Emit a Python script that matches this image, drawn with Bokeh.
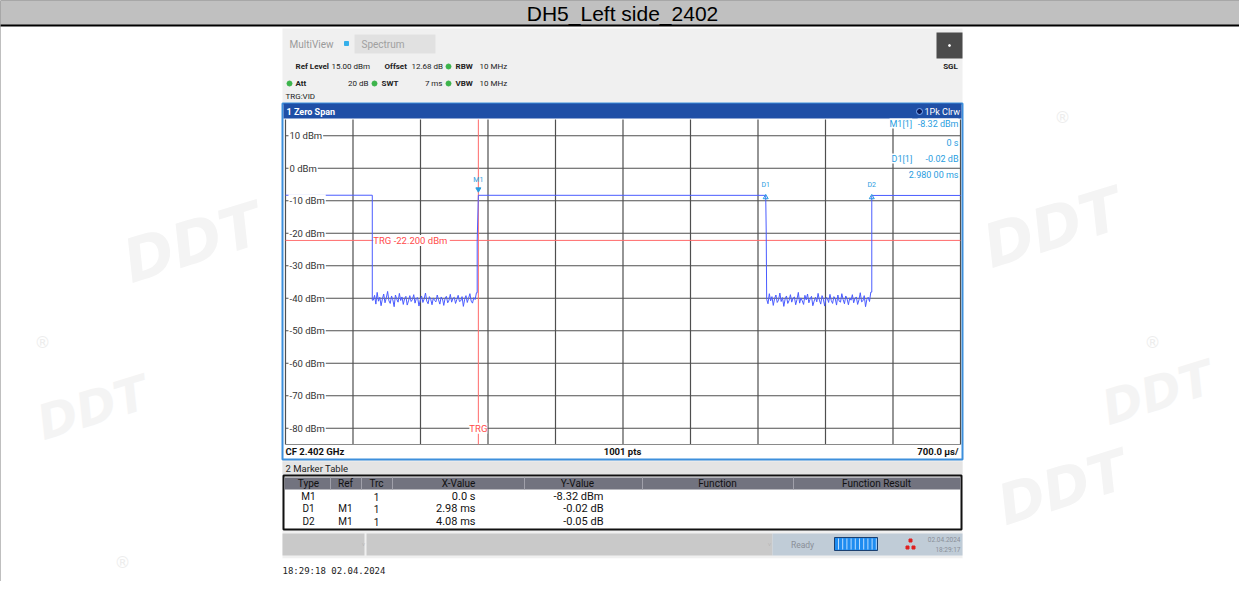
import numpy as np
from bokeh.plotting import figure
from bokeh.models import Range1d
from bokeh.core.properties import value
from bokeh.embed import file_html
from bokeh.resources import INLINE

# ---------------- data ----------------
title_text = "DH5_Left side_2402"
y_tick_levels = [10, 0, -10, -20, -30, -40, -50, -60, -70, -80]
y_tick_labels = ["10 dBm", "0 dBm", "-10 dBm", "-20 dBm", "-30 dBm", "-40 dBm",
                 "-50 dBm", "-60 dBm", "-70 dBm", "-80 dBm"]
x_start_ms = -2.0
x_div_ms = 0.7
x_divs = 10
ref_level = 15.0
y_bottom = -85.0
trigger_level = -22.2

edge_times = [-1.10, 0.0, 2.98, 4.08]        # fall, rise, fall (D1), rise (D2)
high_levels = [-8.30, -8.32, -8.34, -8.37]
noise1 = [-40.6, -39.1, -41.8, -38.2, -40.9, -39.7, -42.3, -40.2, -38.7, -41.4,
          -39.9, -37.9, -40.8, -41.6, -39.3, -40.5, -42.6, -39.0, -40.3, -41.2,
          -38.5, -40.7, -39.6, -41.9, -40.1, -39.4, -42.1, -40.8, -39.2, -41.0,
          -40.4, -38.9, -41.5, -40.0, -39.8, -42.4, -40.6, -39.3, -41.3, -40.2,
          -38.4, -40.9, -41.7, -39.5, -40.3, -42.0, -39.9, -40.7, -41.1, -39.0,
          -40.5, -41.8, -39.6, -40.2, -42.2, -40.0, -39.4, -41.4, -40.6, -38.8,
          -41.2, -40.1, -39.7, -41.6, -40.4, -39.1, -41.0, -40.8, -39.5, -42.5,
          -40.3, -39.2, -41.3, -40.0, -38.6, -40.9, -41.5, -39.8, -40.4, -38.3]
noise2 = [-40.3, -41.7, -38.6, -40.8, -39.5, -42.2, -40.1, -39.0, -41.3, -40.6,
          -38.4, -41.0, -39.8, -42.5, -40.2, -39.3, -41.6, -40.7, -38.9, -41.2,
          -40.0, -39.6, -42.0, -40.4, -38.2, -41.5, -39.9, -40.8, -41.9, -39.1,
          -40.5, -38.7, -41.4, -40.2, -39.4, -42.3, -40.9, -39.7, -41.1, -38.5,
          -40.6, -41.8, -39.2, -40.3, -42.4, -39.8, -40.0, -41.3, -38.8, -40.7,
          -41.6, -39.5, -40.1, -42.1, -39.0, -40.9, -41.2, -38.6, -40.4, -41.7,
          -39.3, -40.2, -42.0, -39.9, -40.6, -38.9, -41.4, -40.0, -39.6, -41.9,
          -40.5, -38.3, -41.1, -40.8, -39.2, -42.6, -40.3, -39.7, -41.0, -38.1]
m1_time, m1_level = 0.0, -8.32
d_times = [2.98, 4.08]
d_names = ["D1", "D2"]

table_cols = ["Type", "Ref", "Trc", "X-Value", "Y-Value", "Function", "Function Result"]
table_type = ["M1", "D1", "D2"]
table_ref = ["", "M1", "M1"]
table_trc = ["1", "1", "1"]
table_x = ["0.0 s", "2.98 ms", "4.08 ms"]
table_y = ["-8.32 dBm", "-0.02 dB", "-0.05 dB"]

# ---------------- canvas mapping (page pixels -> data) ----------------
W, H = 1239, 581
GX0, GX1 = 293.0, 968.0      # grid area on page
GY0, GY1 = 127.0, 452.0
MS_PX = (x_div_ms * x_divs) / (GX1 - GX0)
DB_PX = (ref_level - y_bottom) / (GY1 - GY0)


def X(px):
    return x_start_ms + (px - GX0) * MS_PX


def Y(py):
    return ref_level - (py - GY0) * DB_PX


p = figure(width=W, height=H, output_backend="svg", toolbar_location=None,
           x_range=Range1d(X(8), X(8 + W)), y_range=Range1d(Y(8 + H), Y(8)),
           min_border=0)
p.axis.visible = False
p.grid.visible = False
p.outline_line_color = None
p.background_fill_color = "white"
p.border_fill_color = "white"

UI = "Roboto"


def box(x0, x1, y0, y1, fill=None, line=None, lw=1.0, alpha=1.0):
    p.quad(left=[X(x0)], right=[X(x1)], top=[Y(y0)], bottom=[Y(y1)],
           fill_color=fill if fill else "white", fill_alpha=alpha if fill else 0.0,
           line_color=line, line_width=lw)


def T(x, y, s, size=9, color="#222222", align="left", bold=False, font=UI, bg=None,
      angle=0.0, italic=False):
    kw = {}
    if bg:
        kw = dict(background_fill_color=bg)
    style = "normal"
    if bold and italic:
        style = "bold italic"
    elif bold:
        style = "bold"
    elif italic:
        style = "italic"
    p.text(x=[X(x)], y=[Y(y)], text=[s], text_font=value(font), text_font_size=f"{size}px",
           text_color=color, text_align=align, text_baseline="middle",
           text_font_style=style, angle=angle, **kw)


# ---------------- faint watermarks ----------------
for wx, wy, ws in [(200, 250, 60), (100, 415, 48), (1060, 235, 60), (1165, 400, 48),
                   (1070, 495, 56)]:
    T(wx, wy, "DDT", size=ws, color="#f4f4f4", align="center", bold=True, italic=True,
      font="DejaVu Sans", angle=0.3)
for wx, wy in [(50, 350), (1070, 125), (1160, 350), (130, 570)]:
    T(wx, wy, "\u00ae", size=16, color="#ededed", align="center", font="DejaVu Sans")

# ---------------- outer frame ----------------
box(7, 1253, 7, 33, fill="#c0c0c0", line="black", lw=2)
T(630, 21, title_text, size=21, color="black", align="center", font="Liberation Sans")
p.segment(x0=[X(7), X(1253)], y0=[Y(33)] * 2, x1=[X(7), X(1253)], y1=[Y(600)] * 2,
          line_color="black", line_width=2)

# ---------------- screenshot background ----------------
box(290, 970, 36, 566, fill="#f0f0f0")
box(290, 970, 566, 600, fill="white")
box(362, 443, 42, 61, fill="#e1e1e1")
T(297, 52, "MultiView", size=10, color="#9a9a9a")
p.scatter(x=[X(354)], y=[Y(51)], marker="square", size=4, color="#36b0ea")
T(369, 52, "Spectrum", size=10, color="#a0a0a0")
box(944, 970, 40, 66, fill="#4b4b4b")
p.scatter(x=[X(957)], y=[Y(53)], marker="circle", size=2, color="white")
T(958, 74, "SGL", size=8, color="#222222", bold=True, align="center")

# info lines
T(303, 74, "Ref Level", size=8, bold=True)
T(339, 74, "15.00 dBm", size=8)
T(392, 74, "Offset", size=8, bold=True)
T(419, 74, "12.68 dB", size=8)
T(463, 74, "RBW", size=8, bold=True)
T(487, 74, "10 MHz", size=8)
T(303, 91, "Att", size=8, bold=True)
T(376, 91, "20 dB", size=8, align="right")
T(389, 91, "SWT", size=8, bold=True)
T(450, 91, "7 ms", size=8, align="right")
T(463, 91, "VBW", size=8, bold=True)
T(487, 91, "10 MHz", size=8)
T(293, 104, "TRG:VID", size=8)
p.scatter(x=[X(456), X(297), X(382), X(456)], y=[Y(74), Y(91), Y(91), Y(91)],
          marker="circle", size=5, color="#3cb44b")

# ---------------- zero span window ----------------
box(290, 970, 111, 467, fill="white", line="#3d8fdc", lw=2)
box(291, 969, 111, 126, fill="#1f4fa6")
T(294, 119, "1 Zero Span", size=9, color="white", bold=True)
p.scatter(x=[X(927)], y=[Y(119)], marker="circle", size=6, color="#0a1a5a",
          line_color="#7fb0ff")
T(932, 119, "1Pk Clrw", size=9, color="white")

# grid
vt = [x_start_ms + x_div_ms * k for k in range(x_divs + 1)]
p.segment(x0=vt, y0=[ref_level] * len(vt), x1=vt, y1=[y_bottom] * len(vt),
          line_color="#4f4f4f", line_width=1.2)
x_end = x_start_ms + x_div_ms * x_divs
p.segment(x0=[x_start_ms] * len(y_tick_levels), y0=y_tick_levels,
          x1=[x_end] * len(y_tick_levels), y1=y_tick_levels,
          line_color="#4f4f4f", line_width=1.2)
p.segment(x0=[x_start_ms], y0=[y_bottom], x1=[x_end], y1=[y_bottom],
          line_color="#8a8a8a", line_width=1)

# trigger lines
p.segment(x0=[x_start_ms], y0=[trigger_level], x1=[x_end], y1=[trigger_level],
          line_color="#ff6a6a", line_width=1)
p.segment(x0=[0.0], y0=[ref_level], x1=[0.0], y1=[y_bottom],
          line_color="#ff6a6a", line_width=1)

# trace
t1 = np.linspace(edge_times[0] + 0.01, edge_times[1] - 0.02, len(noise1))
t2 = np.linspace(edge_times[2] + 0.01, edge_times[3] - 0.01, len(noise2))
tr_t = ([x_start_ms, edge_times[0], edge_times[0]] + list(t1) +
        [edge_times[1] - 0.012, edge_times[1] - 0.012, edge_times[1], edge_times[2],
         edge_times[2] + 0.005] + list(t2) + [edge_times[3], edge_times[3], x_end])
tr_v = ([high_levels[0], high_levels[0], noise1[0]] + noise1 +
        [noise1[-1], -22.4, high_levels[1], high_levels[2], -19.0] + noise2 +
        [noise2[-1], high_levels[3], high_levels[3]])
p.line(tr_t, tr_v, line_color="#4a5cff", line_width=1)

# y labels
p.text(x=[x_start_ms] * len(y_tick_levels), y=y_tick_levels, text=y_tick_labels,
       text_font=value(UI), text_font_size="9.5px", text_color="#333333",
       text_baseline="middle", x_offset=3, background_fill_color="white", padding=1)

# trigger text
p.text(x=[edge_times[0]], y=[trigger_level], text=["TRG  -22.200 dBm"],
       text_font=value(UI), text_font_size="9.5px", text_color="#ff4a4a",
       text_baseline="middle", x_offset=1, background_fill_color="white")
p.text(x=[0.0], y=[-80], text=["TRG"], text_font=value(UI), text_font_size="9.5px",
       text_color="#ff4a4a", text_baseline="middle", text_align="center",
       background_fill_color="white")

# markers
mc = "#2a9de0"
p.scatter(x=[m1_time], y=[m1_level + 6 * DB_PX], marker="inverted_triangle", size=5,
          color=mc)
p.text(x=[m1_time], y=[m1_level], text=["M1"], text_font=value(UI), text_font_size="7px",
       text_color=mc, text_align="center", text_baseline="middle", y_offset=-15)
p.scatter(x=d_times, y=[m1_level - 2 * DB_PX] * 2, marker="triangle", size=5,
          fill_color=None, line_color=mc)
p.text(x=d_times, y=[m1_level] * 2, text=d_names, text_font=value(UI),
       text_font_size="7px", text_color=mc, text_align="center", text_baseline="middle",
       y_offset=-10)

# marker info (top right)
T(897, 131, "M1[1]", size=9, color=mc, bg="white")
T(966, 131, "-8.32 dBm", size=9, color=mc, align="right", bg="white")
T(966, 150, "0 s", size=9, color=mc, align="right", bg="white")
T(899, 166, "D1[1]", size=9, color=mc, bg="white")
T(966, 166, "-0.02 dB", size=9, color=mc, align="right", bg="white")
T(966, 182, "2.980 00 ms", size=9, color=mc, align="right", bg="white")

# bottom row of window
T(293, 459, "CF 2.402 GHz", size=9.5, color="#111111", bold=True)
T(630, 459, "1001 pts", size=9.5, color="#111111", bold=True, align="center")
T(966, 459, "700.0 \u00b5s/", size=9.5, color="#111111", bold=True, align="right")

# ---------------- marker table ----------------
box(290, 970, 469, 482, fill="#e4e4e4")
T(293, 476, "2 Marker Table", size=9.5, color="#222222")
box(291, 969, 483, 537, fill="white", line="#111111", lw=2)
box(292, 968, 485, 497, fill="#72737f")
seps = [338, 369, 400, 532, 650, 801]
p.segment(x0=[X(s) for s in seps], y0=[Y(485)] * 6, x1=[X(s) for s in seps],
          y1=[Y(497)] * 6, line_color="#a0a0aa", line_width=1)
col_cx = [316, 353, 384, 466, 585, 725, 884]
for c, name in zip(col_cx, table_cols):
    T(c, 491, name, size=10, color="#111111", align="center")
row_y = [504, 516, 529]
for i in range(3):
    T(316, row_y[i], table_type[i], size=10, color="#111111", align="center")
    T(353, row_y[i], table_ref[i], size=10, color="#111111", align="center")
    T(384, row_y[i], table_trc[i], size=10, color="#111111", align="center")
    T(483, row_y[i], table_x[i], size=11, color="#111111", align="right")
    T(611, row_y[i], table_y[i], size=11, color="#111111", align="right")

# ---------------- status bar ----------------
box(290, 372, 541, 563, fill="#c9c9c9")
box(374, 780, 541, 563, fill="#c9c9c9")
box(780, 970, 541, 563, fill="#c0ccd7")
T(371, 552, "\u02c5", size=6, color="#aaaaaa", align="center")
T(777, 552, "\u02c5", size=6, color="#aaaaaa", align="center")
T(810, 552, "Ready", size=8.5, color="#8a8f98", align="center")
box(842, 885, 545, 558, fill="#1e8cf0", line="#1a3f70", lw=1)
bx = list(np.arange(846, 884, 4.2))
p.segment(x0=[X(b) for b in bx], y0=[Y(546)] * len(bx), x1=[X(b) for b in bx],
          y1=[Y(557)] * len(bx), line_color="#b8dcff", line_width=1)
p.scatter(x=[X(918), X(915), X(921)], y=[Y(548), Y(555), Y(555)], marker="square",
          size=3, color="#e02020")
T(968, 547, "02.04.2024", size=6.5, color="#8a8f98", align="right")
T(968, 557, "18:29:17", size=6.5, color="#8a8f98", align="right")

# timestamp
T(290, 578, "18:29:18  02.04.2024", size=9, color="#222222", font="DejaVu Sans Mono")

open("out.html", "w").write(file_html(p, INLINE))
